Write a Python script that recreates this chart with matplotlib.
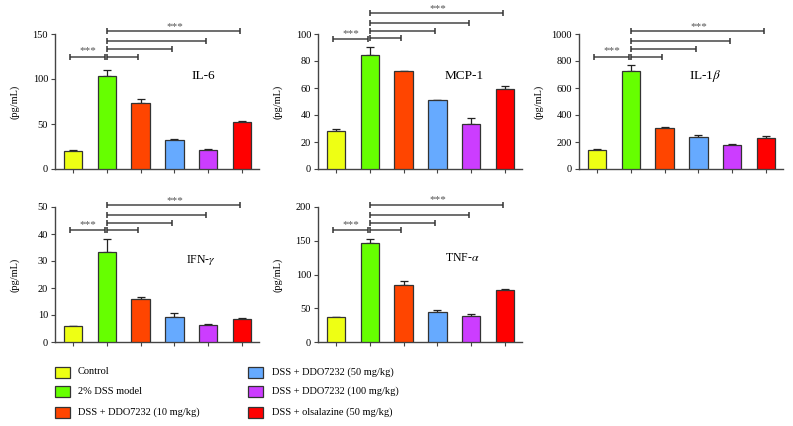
import matplotlib
matplotlib.use("Agg")
import matplotlib.pyplot as plt
from matplotlib.patches import Rectangle

plt.rcParams['font.family'] = ['Liberation Serif', 'DejaVu Serif']
plt.rcParams['mathtext.fontset'] = 'stix'

groups = ["Control", "2% DSS model", "DSS + DDO7232 (10 mg/kg)",
          "DSS + DDO7232 (50 mg/kg)", "DSS + DDO7232 (100 mg/kg)",
          "DSS + olsalazine (50 mg/kg)"]
colors = ["#EEFF14", "#66FF00", "#FF4500", "#66AAFF", "#CC3DFF", "#FF0000"]

il6_vals = [20.5, 103, 73, 32.5, 21.5, 52]
il6_err = [1, 7, 4.5, 0.5, 1, 0.8]
mcp1_vals = [28.5, 84.7, 72.3, 50.8, 33.1, 59]
mcp1_err = [1.2, 5.3, 0.5, 0.5, 4.7, 2.2]
il1b_vals = [138, 723, 301, 240, 180, 232]
il1b_err = [10, 47, 10, 9, 3, 12]
ifng_vals = [6.1, 33.2, 16.0, 9.2, 6.4, 8.7]
ifng_err = [0.0, 5.0, 0.8, 1.5, 0.2, 0.3]
tnfa_vals = [36.4, 146, 84.5, 44.7, 38.8, 77.6]
tnfa_err = [0.0, 7, 5.5, 2.0, 2.5, 1.0]

panels = [
    dict(vals=il6_vals, err=il6_err, ymax=150, yticks=[0, 50, 100, 150],
         title="IL-6", tpos=(3.85, 103), tsize=9.5,
         brackets=[125, 125, 133, 142, 153], col=0, row=0),
    dict(vals=mcp1_vals, err=mcp1_err, ymax=100, yticks=[0, 20, 40, 60, 80, 100],
         title="MCP-1", tpos=(3.8, 69), tsize=9.5,
         brackets=[96, 97, 102, 108, 115.3], col=1, row=0),
    dict(vals=il1b_vals, err=il1b_err, ymax=1000, yticks=[0, 200, 400, 600, 800, 1000],
         title=r"IL-1$\beta$", tpos=(3.2, 689), tsize=9.5,
         brackets=[830, 830, 889, 948, 1020], col=2, row=0),
    dict(vals=ifng_vals, err=ifng_err, ymax=50, yticks=[0, 10, 20, 30, 40, 50],
         title=r"IFN-$\gamma$", tpos=(3.8, 30.4), tsize=8.5,
         brackets=[41.4, 41.4, 44.1, 47.2, 50.7], col=0, row=1),
    dict(vals=tnfa_vals, err=tnfa_err, ymax=200, yticks=[0, 50, 100, 150, 200],
         title=r"TNF-$\alpha$", tpos=(3.73, 124), tsize=8.5,
         brackets=[165.6, 165.6, 176.4, 188.7, 203], col=1, row=1),
]

W, H = 793, 426
fig = plt.figure(figsize=(W / 100, H / 100), dpi=100)

col_left = [55, 318, 579]
row_top = [34, 207]
ax_w = 204
ax_h = 135
xlo, xhi = -0.53, 5.5

line_c = "#6e6e6e"
cap_c = "#333333"

def bracket(ax, x0, x1, y, left_cap=True):
    ax.plot([x0, x1], [y, y], color=line_c, lw=1.4, clip_on=False, solid_capstyle='butt')
    for xx, do in ((x0, left_cap), (x1, True)):
        if do:
            ax.plot([xx], [y], color=cap_c, clip_on=False, linestyle='none',
                    marker='|', markersize=5, markeredgewidth=1.1)

for p in panels:
    l = col_left[p['col']]
    t = row_top[p['row']]
    ax = fig.add_axes([l / W, 1 - (t + ax_h) / H, ax_w / W, ax_h / H])
    x = list(range(len(groups)))
    ax.bar(x, p['vals'], width=0.54, color=colors, edgecolor="#333333", linewidth=0.9, zorder=3)
    lower = [0] * len(groups)
    ax.errorbar(x, p['vals'], yerr=[lower, p['err']], fmt='none', ecolor='#222222',
                elinewidth=0.9, capsize=3, capthick=0.9, zorder=2)
    ax.set_xlim(xlo, xhi)
    ax.set_ylim(0, p['ymax'])
    ax.set_yticks(p['yticks'])
    ax.set_xticks(x)
    ax.set_xticklabels([])
    for s in ('top', 'right'):
        ax.spines[s].set_visible(False)
    for s in ('left', 'bottom'):
        ax.spines[s].set_color('#444444')
        ax.spines[s].set_linewidth(1.0)
    ax.tick_params(axis='both', direction='out', length=3, width=0.8, color='#444444',
                   labelsize=7.5, pad=2)
    ax.set_ylabel("(pg/mL)", fontsize=7.5)
    ax.yaxis.set_label_coords(-0.175, 0.5)
    ax.text(p['tpos'][0], p['tpos'][1], p['title'], fontsize=p['tsize'],
            ha='center', va='center')
    b = p['brackets']
    ymax = p['ymax']
    # Control vs DSS
    bracket(ax, 0 - 0.09, 1 - 0.06, b[0])
    ax.text(0.45, b[0] + 0.01 * ymax, "***", fontsize=8, color='#555555',
            ha='center', va='bottom', clip_on=False)
    for k, tgt in enumerate([2, 3, 4, 5]):
        bracket(ax, 1 + 0.02, tgt - 0.07, b[k + 1])
    ax.text(3.0, b[4] + 0.003 * ymax, "***", fontsize=8, color='#555555',
            ha='center', va='bottom', clip_on=False)

# legend (manual)
leg_rows = [372, 391, 412]
leg_cols = [(55, 78), (248, 272)]
for i, (g, c) in enumerate(zip(groups, colors)):
    colx, textx = leg_cols[i // 3]
    yc = leg_rows[i % 3]
    fig.patches.append(Rectangle((colx / W, 1 - (yc + 5.5) / H), 15 / W, 11 / H,
                                 transform=fig.transFigure, facecolor=c,
                                 edgecolor='#333333', linewidth=0.9))
    fig.text(textx / W, 1 - yc / H, g, fontsize=7.5, ha='left', va='center')

fig.savefig("out.png", dpi=100)
